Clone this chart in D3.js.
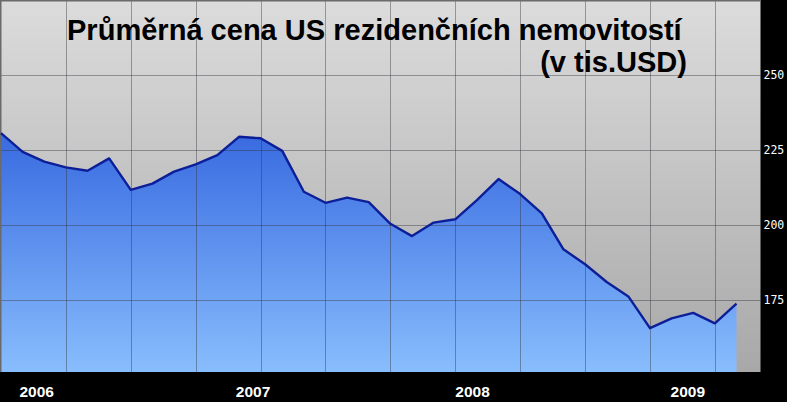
<!DOCTYPE html>
<html><head><meta charset="utf-8">
<script src="https://cdn.jsdelivr.net/npm/d3@7/dist/d3.min.js"></script>
<style>html,body{margin:0;padding:0;background:#000;}svg{display:block;}</style>
</head><body><svg id="c" width="787" height="402"></svg>
<script>
// monthly values (thousand USD)
const values = [230.6, 224.4, 221.1, 219.2, 218.1, 222.2, 211.7, 213.8, 217.8, 220.2,
  223.3, 229.4, 228.9, 224.7, 211.1, 207.4, 209.1, 207.6, 200.4, 196.3,
  200.8, 201.9, 208.3, 215.3, 210.3, 203.9, 191.9, 186.9, 181.0, 176.2,
  165.6, 168.9, 170.7, 167.2, 173.8];
const yTicks = [175, 200, 225, 250];
const yearLabels = ["2006", "2007", "2008", "2009"];
const yearLabelIndex = [1.65, 11.65, 21.8, 31.75];
const titleLine1 = "Průměrná cena US rezidenčních nemovitostí";
const titleLine2 = "(v tis.USD)";

const svg = d3.select("#c");
const W = 787, H = 402;
const plot = {left: 1, top: 0, right: 760.5, bottom: 372};

const x = d3.scaleLinear().domain([0, values.length - 1]).range([1, 736.5]);
const y = d3.scaleLinear().domain([151, 275]).range([plot.bottom, plot.top]);

const defs = svg.append("defs");
const bg = defs.append("linearGradient").attr("id", "bg").attr("x1", 0).attr("y1", 0).attr("x2", 0).attr("y2", 1);
bg.append("stop").attr("offset", "0%").attr("stop-color", "#dcdcdc");
bg.append("stop").attr("offset", "100%").attr("stop-color", "#a8a8a8");
const ag = defs.append("linearGradient").attr("id", "ag").attr("gradientUnits", "userSpaceOnUse")
  .attr("x1", 0).attr("y1", y(231)).attr("x2", 0).attr("y2", plot.bottom);
ag.append("stop").attr("offset", "0%").attr("stop-color", "#386ae0");
ag.append("stop").attr("offset", "100%").attr("stop-color", "#88bdfd");

svg.append("rect").attr("width", W).attr("height", H).attr("fill", "#000");
svg.append("rect").attr("x", 0).attr("y", 0).attr("width", plot.right).attr("height", plot.bottom).attr("fill", "url(#bg)");

const area = d3.area().x((d, i) => x(i)).y0(plot.bottom).y1(d => y(d));
svg.append("path").datum(values).attr("d", area).attr("fill", "url(#ag)");

// grid
const gx = d3.range(3, values.length, 3);
svg.append("g").selectAll("line").data(gx).join("line")
  .attr("x1", d => Math.round(x(d)) + 0.5).attr("x2", d => Math.round(x(d)) + 0.5)
  .attr("y1", plot.top).attr("y2", plot.bottom)
  .attr("stroke", "rgba(50,50,60,0.42)").attr("stroke-width", 1);
svg.append("g").selectAll("line").data(yTicks).join("line")
  .attr("x1", 0).attr("x2", plot.right)
  .attr("y1", d => Math.round(y(d)) + 0.5).attr("y2", d => Math.round(y(d)) + 0.5)
  .attr("stroke", "rgba(50,50,60,0.42)").attr("stroke-width", 1);
// frame top/left
svg.append("line").attr("x1", 0).attr("x2", plot.right).attr("y1", 0.5).attr("y2", 0.5).attr("stroke", "#6a6a6a").attr("stroke-width", 2);
svg.append("line").attr("x1", 0.5).attr("x2", 0.5).attr("y1", 0).attr("y2", plot.bottom).attr("stroke", "#6a6a6a").attr("stroke-width", 2);

const line = d3.line().x((d, i) => x(i)).y(d => y(d));
svg.append("path").datum(values).attr("d", line).attr("fill", "none")
  .attr("stroke", "#0c1e98").attr("stroke-width", 2.4).attr("stroke-linejoin", "round");

// y axis labels
const yAxis = d3.axisRight(y).tickValues(yTicks).tickSize(0).tickPadding(3);
const ya = svg.append("g").attr("transform", `translate(${plot.right},0)`).call(yAxis);
ya.select(".domain").remove();
ya.selectAll("text").attr("fill", "#fff").attr("font-family", "DejaVu Sans Mono").attr("font-size", 11.5);

// year labels
svg.append("g").selectAll("text").data(yearLabels).join("text")
  .attr("x", (d, i) => x(yearLabelIndex[i])).attr("y", 397)
  .attr("text-anchor", "middle").attr("fill", "#fff")
  .attr("font-family", "Liberation Sans, Arial, sans-serif").attr("font-weight", "bold").attr("font-size", 15.5)
  .text(d => d);

// title
const t1 = svg.append("text").attr("x", 67).attr("y", 40).attr("fill", "#000")
  .attr("font-family", "Liberation Sans, Arial, sans-serif").attr("font-weight", "bold").attr("font-size", 27)
  .text(titleLine1);
const w1 = t1.node().getComputedTextLength();
t1.attr("font-size", 27 * 615 / w1);
const t2 = svg.append("text").attr("x", 687).attr("y", 72).attr("text-anchor", "end").attr("fill", "#000")
  .attr("font-family", "Liberation Sans, Arial, sans-serif").attr("font-weight", "bold").attr("font-size", 27 * 615 / w1)
  .text(titleLine2);
</script></body></html>
